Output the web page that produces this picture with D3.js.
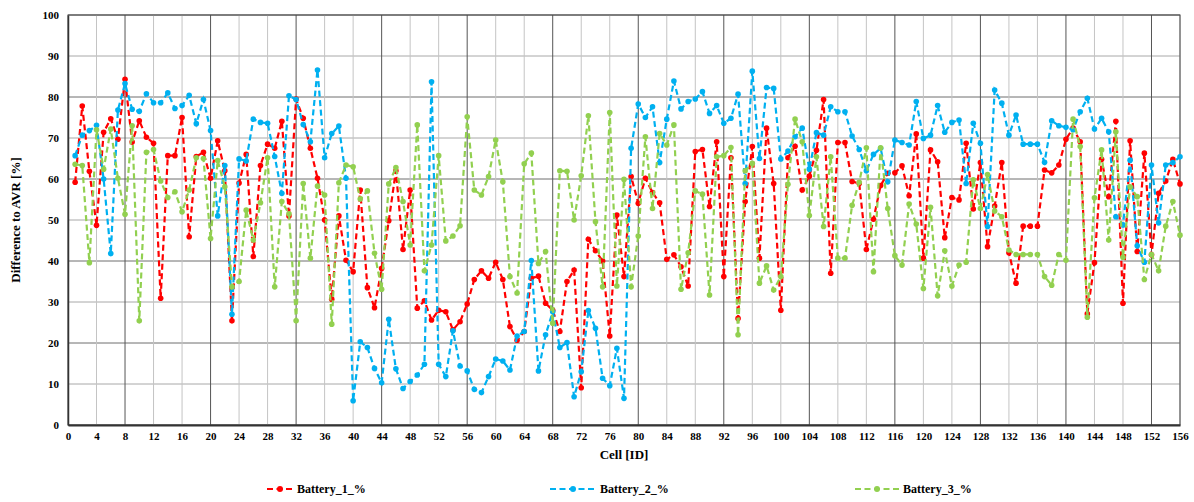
<!DOCTYPE html>
<html>
<head>
<meta charset="utf-8">
<script src="https://cdn.jsdelivr.net/npm/d3@7"></script>
<style>
  html, body { margin: 0; padding: 0; background: #fff; }
  svg { display: block; }
  text { font-family: "Liberation Serif", "Times New Roman", serif; font-weight: bold; fill: #000; }
</style>
</head>
<body>
<svg id="chart" width="1194" height="502"></svg>
<script>
// ---- data ----
const seriesNames = ["Battery_1_%", "Battery_2_%", "Battery_3_%"];
const seriesColors = ["#ff0000", "#00b0f0", "#92d050"];

const battery1 = [59.2,77.8,61.9,48.7,71.4,74.7,69.7,84.3,69,74.2,70.2,68.7,30.9,65.7,65.7,75.0,45.9,65.5,66.5,60.2,
69.3,62,25.4,59,66,41.1,63.3,68.5,67.5,74.1,51,79.5,74.8,67.5,60.2,50.0,30.7,51.0,40.2,37.4,
57.3,33.5,28.6,38.2,49.8,62.0,42.8,57.3,28.5,30.3,25.6,28.0,27.6,23.2,25.2,29.5,35.5,37.6,35.8,39.7,
35.5,24.0,20.7,22.8,35.8,36.3,29.7,28.0,22.8,35.0,37.8,9.1,45.3,42.5,40,21.7,51.2,36.2,60.6,54.1,
60.2,56.7,54.2,40.4,41.5,38.6,33.9,66.7,67.2,53.3,69.1,36.2,65.2,26.0,54.5,67.9,40.7,72.4,58.9,28.0,
65.2,68.0,57.3,60.7,67,79.4,37.0,68.9,68.9,59.4,58.9,42.8,50.2,58.4,61.4,61.5,63.2,55.9,71.0,40.7,
67.1,64.2,45.7,55.5,54.9,68.7,52.7,64.0,43.5,53.4,64.0,42,34.6,48.5,48.5,48.5,62.2,61.5,63.4,69.7,
72.4,69.1,27.1,39.6,64.8,55.7,74.1,29.7,69.3,42.3,66.3,41.5,56.5,59.5,64.8,58.8];

const battery2 = [65.7,70.7,71.8,73.1,60,41.8,76.8,83.3,77,76.5,80.8,78.6,78.6,81.0,77.2,77.9,80.4,73.5,79.4,71.8,
51.0,63.3,27.0,64.9,64.4,74.6,73.8,73.6,65.5,56.5,80.3,79.4,73.3,69.1,86.6,65.2,71.1,72.9,60.2,5.9,
20.3,18.9,13.8,10.3,25.8,13.7,8.9,10.6,12.2,14.8,83.7,14.8,11.8,23.0,14.4,13.2,8.7,7.9,11.8,16.1,
15.6,13.4,21.7,22.8,40.1,13.2,22.0,27.6,18.9,20.1,6.9,13.0,27.9,23.6,11.4,9.6,18.7,6.5,67.5,78.3,
75.0,77.6,64.0,74.6,83.9,77.1,78.9,79.5,81.3,76.0,77.9,73.6,74.8,80.7,58.9,86.3,65.0,82.3,82.1,64.9,
66.8,70.3,72.4,62.4,71.3,70.7,77.6,76.4,76.4,70.5,67.2,62.0,66.0,67.5,59.3,69.5,68.9,68.3,78.9,69.9,
70.7,77.9,71.4,73.8,74.4,58.9,73.6,68.7,48.4,81.7,78.5,70.7,75.6,68.5,68.5,68.5,64.1,74.2,73.0,72.6,
72.0,76.4,79.7,72.2,74.8,71.5,50.8,48.8,64.6,43.7,39.7,63.4,49.3,63.4,64.0,65.4];

const battery3 = [63.6,63.3,39.6,72.0,62.4,72.2,60.2,51.4,73.0,25.4,66.5,67.2,59.5,55.5,56.9,52.0,57.3,65.2,65.0,45.5,
64.5,58.1,33.7,35.0,52.4,45.1,54.2,65.2,33.7,54.5,51.5,25.4,58.9,40.7,58.3,56.1,24.6,59.1,63.4,63.0,
55.1,57.1,41.9,33.1,58.8,62.8,54.5,43.9,73.2,37.6,43.9,65.7,44.9,46.1,48.6,75.2,57.3,56.1,60.6,69.5,
59.3,36.2,32.2,63.7,66.3,39.4,42.3,24.8,62.0,61.9,50.0,60.8,75.4,49.6,33.7,76.2,33.9,59.9,33.7,46.1,
70.3,52.8,71.1,68.3,73.2,33.1,42.0,57.1,56.3,31.7,65.4,65.7,67.7,22.0,62.0,63.8,34.6,38.8,32.9,36.2,
58.7,74.6,69.1,51.1,65.4,48.4,65.4,40.7,40.7,53.6,59.2,67.6,37.4,67.6,52.8,41.3,39.0,53.9,49.0,33.3,
53.1,31.5,42.5,33.9,39.0,39.7,59.8,52.8,61.1,52.2,50.8,42.7,41.6,41.6,41.6,41.6,36.2,34.1,41.6,40.2,
74.6,67.9,26.3,55.4,67.1,45.1,71.5,40.9,58.1,55.7,35.5,41.6,37.6,48.5,54.5,46.3];

const cellIds = battery1.map((d, i) => i + 1);
const xTickValues = d3.range(0, 157, 4);
const yTickValues = d3.range(0, 101, 10);

const xTitle = "Cell [ID]";
const yTitle = "Difference to AVR [%]";

// ---- layout ----
const svg = d3.select("#chart");
const L = 68, R = 1180, T = 15, B = 425;
const x = d3.scaleLinear().domain([0, 156]).range([L, R]);
const y = d3.scaleLinear().domain([0, 100]).range([B, T]);

// grid
const grid = svg.append("g");
grid.selectAll("line.h").data(yTickValues).join("line")
  .attr("x1", L).attr("x2", R)
  .attr("y1", d => y(d)).attr("y2", d => y(d))
  .attr("stroke", d => (d % 20 === 0 ? "#6e6e6e" : "#a8a8a8")).attr("stroke-width", 1);
grid.selectAll("line.v").data(xTickValues).join("line")
  .attr("y1", T).attr("y2", B)
  .attr("x1", d => x(d)).attr("x2", d => x(d))
  .attr("stroke", d => ((d - 8) % 12 === 0 ? "#555" : "#c4c4c4")).attr("stroke-width", 1);

// frame
svg.append("rect").attr("x", L).attr("y", T).attr("width", R - L).attr("height", B - T)
  .attr("fill", "none").attr("stroke", "#444").attr("stroke-width", 1);

// axes
const xAxis = d3.axisBottom(x).tickValues(xTickValues).tickSize(0).tickPadding(7).tickFormat(d3.format("d"));
const gx = svg.append("g").attr("transform", `translate(0,${B})`).call(xAxis);
gx.select(".domain").attr("stroke", "#333").attr("stroke-width", 2);
gx.selectAll("text").style("font-size", "11px").style("font-family", "Liberation Serif").style("font-weight", "bold");

const yAxis = d3.axisLeft(y).tickValues(yTickValues).tickSize(0).tickPadding(9);
const gy = svg.append("g").attr("transform", `translate(${L},0)`).call(yAxis);
gy.select(".domain").attr("stroke", "#333").attr("stroke-width", 1.5);
gy.selectAll("text").style("font-size", "11px").style("font-family", "Liberation Serif").style("font-weight", "bold");

// titles
svg.append("text").attr("x", (L + R) / 2).attr("y", 459).attr("text-anchor", "middle")
  .style("font-size", "13px").text(xTitle);
svg.append("text").attr("transform", `translate(20,${(T + B) / 2}) rotate(-90)`).attr("text-anchor", "middle")
  .style("font-size", "13px").text(yTitle);

// series
const allSeries = [battery1, battery2, battery3];
const line = d3.line().x((d, i) => x(cellIds[i])).y(d => y(d));
allSeries.forEach((vals, s) => {
  const g = svg.append("g");
  g.append("path").datum(vals).attr("d", line)
    .attr("fill", "none").attr("stroke", seriesColors[s]).attr("stroke-width", 2.2)
    .attr("stroke-dasharray", "6,3.5");
  g.selectAll("circle").data(vals).join("circle")
    .attr("cx", (d, i) => x(cellIds[i])).attr("cy", d => y(d)).attr("r", 2.8)
    .attr("fill", seriesColors[s]);
});

// legend
const legendX = [297, 600, 903];
const legendLineLen = [26, 46, 44];
const legendY = 489;
seriesNames.forEach((name, s) => {
  const g = svg.append("g");
  const x1 = legendX[s] - 4 - legendLineLen[s], x2 = legendX[s] - 4;
  g.append("line").attr("x1", x1).attr("x2", x2)
    .attr("y1", legendY).attr("y2", legendY)
    .attr("stroke", seriesColors[s]).attr("stroke-width", 2.2).attr("stroke-dasharray", "6,3.5");
  g.append("circle").attr("cx", (x1 + x2) / 2).attr("cy", legendY).attr("r", 3).attr("fill", seriesColors[s]);
  g.append("text").attr("x", legendX[s]).attr("y", legendY + 4).style("font-size", "12px").text(name);
});
</script>
</body>
</html>
